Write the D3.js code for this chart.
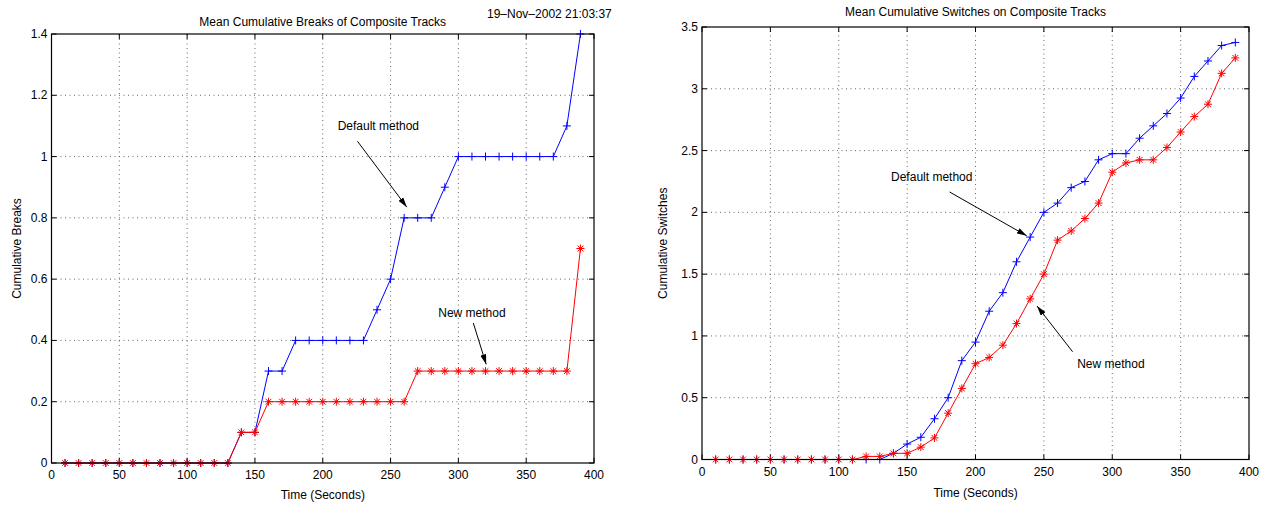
<!DOCTYPE html>
<html><head><meta charset="utf-8">
<script src="https://cdn.jsdelivr.net/npm/d3@7"></script>
<style>
body{margin:0;background:#fff;}
svg text{font-family:"Liberation Sans",Arial,Helvetica,sans-serif;font-size:12px;fill:#000;}
</style></head>
<body><svg id="c" width="1270" height="506"></svg>
<script>
// ---- data ----
const times = [10,20,30,40,50,60,70,80,90,100,110,120,130,140,150,160,170,180,190,200,210,220,230,240,250,260,270,280,290,300,310,320,330,340,350,360,370,380,390];
const breaksDefault = [0,0,0,0,0,0,0,0,0,0,0,0,0,0.1,0.1,0.3,0.3,0.4,0.4,0.4,0.4,0.4,0.4,0.5,0.6,0.8,0.8,0.8,0.9,1,1,1,1,1,1,1,1,1.1,1.4];
const breaksNew = [0,0,0,0,0,0,0,0,0,0,0,0,0,0.1,0.1,0.2,0.2,0.2,0.2,0.2,0.2,0.2,0.2,0.2,0.2,0.2,0.3,0.3,0.3,0.3,0.3,0.3,0.3,0.3,0.3,0.3,0.3,0.3,0.7];
const switchesDefault = [0,0,0,0,0,0,0,0,0,0,0,0,0,0.05,0.125,0.18,0.33,0.5,0.8,0.95,1.2,1.35,1.6,1.8,2.0,2.075,2.2,2.25,2.425,2.475,2.475,2.6,2.7,2.8,2.925,3.1,3.225,3.35,3.375];
const switchesNew = [0,0,0,0,0,0,0,0,0,0,0,0.025,0.025,0.05,0.05,0.1,0.175,0.375,0.575,0.775,0.825,0.925,1.1,1.3,1.5,1.775,1.85,1.95,2.075,2.325,2.4,2.425,2.425,2.525,2.65,2.775,2.875,3.125,3.25];
const xTicks = [0,50,100,150,200,250,300,350,400];
const yTicksBreaks = [0,0.2,0.4,0.6,0.8,1,1.2,1.4];
const yTicksSwitches = [0,0.5,1,1.5,2,2.5,3,3.5];
const titleBreaks = "Mean Cumulative Breaks of Composite Tracks";
const titleSwitches = "Mean Cumulative Switches on Composite Tracks";
const xLabel = "Time (Seconds)";
const yLabelBreaks = "Cumulative Breaks";
const yLabelSwitches = "Cumulative Switches";
const dateStamp = "19–Nov–2002 21:03:37";
// annotations: [text, textX, textY, tailX, tailY, headX, headY] in data units
const annBreaks = [["Default method",241,1.1,225.6,1.05,262,0.835],["New method",310,0.49,311,0.457,320.5,0.322]];
const annSwitches = [["Default method",168,2.29,181,2.165,237.5,1.81],["New method",299,0.77,271,0.872,245,1.242]];

const svg = d3.select("#c");
const defs = svg.append("defs");
defs.append("marker").attr("id","ah").attr("viewBox","0 0 10 6").attr("refX",10).attr("refY",3)
  .attr("markerWidth",10).attr("markerHeight",6).attr("markerUnits","userSpaceOnUse").attr("orient","auto")
  .append("path").attr("d","M0,0L10,3L0,6Z").attr("fill","#000");

function plusPath(x,y,h){return `M${x-h},${y}H${x+h}M${x},${y-h}V${y+h}`;}
function starPath(x,y,h){const d=h*0.72;return plusPath(x,y,h)+`M${x-d},${y-d}L${x+d},${y+d}M${x-d},${y+d}L${x+d},${y-d}`;}

function panel(o){
  const g = svg.append("g");
  const x = d3.scaleLinear().domain([0,400]).range([o.x0,o.x1]);
  const y = d3.scaleLinear().domain([0,o.ymax]).range([o.y0,o.y1]);
  // grid
  const grid = g.append("g").attr("stroke","#444").attr("stroke-width",0.8).attr("stroke-dasharray","1,3.5");
  xTicks.slice(1,-1).forEach(t=>grid.append("line").attr("x1",x(t)).attr("x2",x(t)).attr("y1",o.y0).attr("y2",o.y1));
  o.yTicks.slice(1,-1).forEach(t=>grid.append("line").attr("y1",y(t)).attr("y2",y(t)).attr("x1",o.x0).attr("x2",o.x1));
  // ticks inward on all sides
  const tk = g.append("g").attr("stroke","#000").attr("stroke-width",1);
  xTicks.forEach(t=>{tk.append("line").attr("x1",x(t)).attr("x2",x(t)).attr("y1",o.y0).attr("y2",o.y0-5);
    tk.append("line").attr("x1",x(t)).attr("x2",x(t)).attr("y1",o.y1).attr("y2",o.y1+5);});
  o.yTicks.forEach(t=>{tk.append("line").attr("y1",y(t)).attr("y2",y(t)).attr("x1",o.x0).attr("x2",o.x0+5);
    tk.append("line").attr("y1",y(t)).attr("y2",y(t)).attr("x1",o.x1).attr("x2",o.x1-5);});
  // tick labels
  xTicks.forEach(t=>g.append("text").attr("x",x(t)).attr("y",o.y0+16).attr("text-anchor","middle").text(d3.format("")(t)));
  o.yTicks.forEach(t=>g.append("text").attr("x",o.x0-4).attr("y",y(t)+4).attr("text-anchor","end").text(String(t)));
  // series
  const line = d3.line().x((d,i)=>x(times[i])).y(d=>y(d));
  [[o.def,"#0000ff",plusPath,4],[o.nw,"#ff0000",starPath,4]].forEach(([vals,col,mk,h])=>{
    g.append("path").attr("d",line(vals)).attr("fill","none").attr("stroke",col).attr("stroke-width",1);
    g.append("path").attr("d",vals.map((v,i)=>mk(x(times[i]),y(v),h)).join("")).attr("fill","none").attr("stroke",col).attr("stroke-width",1);
  });
  // box
  g.append("rect").attr("x",o.x0).attr("y",o.y1).attr("width",o.x1-o.x0).attr("height",o.y0-o.y1)
    .attr("fill","none").attr("stroke","#000").attr("stroke-width",1.2);
  // annotations
  o.ann.forEach(a=>{
    g.append("text").attr("x",x(a[1])).attr("y",y(a[2])+4).attr("text-anchor","middle").text(a[0]);
    g.append("line").attr("x1",x(a[3])).attr("y1",y(a[4])).attr("x2",x(a[5])).attr("y2",y(a[6]))
      .attr("stroke","#000").attr("stroke-width",1).attr("marker-end","url(#ah)");
  });
  // titles and labels
  g.append("text").attr("x",(o.x0+o.x1)/2).attr("y",o.titleY).attr("text-anchor","middle").text(o.title);
  g.append("text").attr("x",(o.x0+o.x1)/2).attr("y",o.xlabY).attr("text-anchor","middle").text(xLabel);
  g.append("text").attr("transform",`translate(${o.ylabX},${(o.y0+o.y1)/2}) rotate(-90)`).attr("text-anchor","middle").text(o.ylab);
}

panel({x0:51.5,x1:594,y0:463,y1:34,ymax:1.4,yTicks:yTicksBreaks,def:breaksDefault,nw:breaksNew,ann:annBreaks,
  title:titleBreaks,titleY:26,xlabY:499,ylab:yLabelBreaks,ylabX:21});
panel({x0:702,x1:1249,y0:459.5,y1:27,ymax:3.5,yTicks:yTicksSwitches,def:switchesDefault,nw:switchesNew,ann:annSwitches,
  title:titleSwitches,titleY:16,xlabY:497,ylab:yLabelSwitches,ylabX:667});
svg.append("text").attr("x",487).attr("y",17.5).text(dateStamp);
</script></body></html>
